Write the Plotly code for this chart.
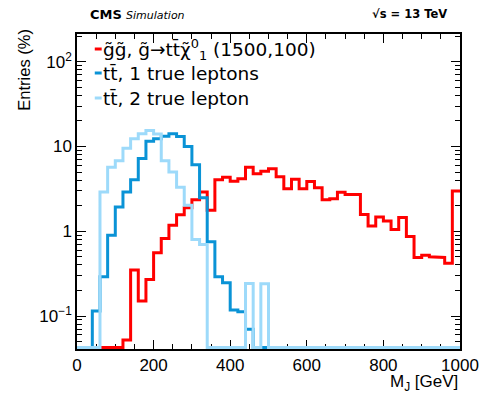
import plotly.graph_objects as go
import math

# ---- data ----
bin_edges = list(range(0, 1001, 20))  # M_J bin edges [GeV]

# Entries (%) per 20 GeV bin; 0 = empty bin, None = not drawn
signal_t1tttt = [None, None, None, 0, 0, 0, 0.052, 0.348, 0.15, 0.27,
                 0.556, 0.82, 1.18, 1.57, 1.9, 2.35, 2.9, 1.77, 4.06, 4.35,
                 3.9, 4.17, 5.7, 4.77, 5.1, 5.46, 4.4, 3.18, 4.12, 3.18,
                 3.87, 3.27, 2.36, 2.42, 2.88, 2.72, 2.72, 1.58, 1.15, 1.47,
                 1.32, 1.05, 1.45, 0.87, 0.49, 0.52, 0.50, 0.49, 0.42, 2.98]

ttbar_1lep = [0, 0, 0.115, 0.29, 0.9, 1.93, 2.9, 4.06, 7.2, 11.5,
              12.3, 13.2, 14.1, 13.1, 10.0, 6.1, 2.49, 0.75, 0.29, 0.247,
              0.118, 0.112, 0.07, 0, 0, 0, 0, 0, 0, 0,
              0, 0, 0, 0, 0, 0, 0, 0, 0, 0,
              0, 0, 0, 0, 0, 0, 0, 0, 0, 0]

ttbar_2lep = [0, 0, 0, 2.9, 5.7, 6.8, 9.55, 12.3, 14.1, 15.4,
              14.0, 6.8, 5.0, 3.3, 2.02, 0.8, 0.70, 0, 0, 0,
              0, 0, 0.242, 0, 0.24, 0, 0, 0, 0, 0,
              0, 0, 0, 0, 0, 0, 0, 0, 0, 0,
              0, 0, 0, 0, 0, 0, 0, 0, 0, 0]

legend_labels = [
    "g\u0303g\u0303, g\u0303\u2192tt\u0304\u03c7\u0303<sup>0</sup><sub>1</sub> (1500,100)",
    "tt\u0304, 1 true leptons",
    "tt\u0304, 2 true lepton",
]
colors = ["#FF0000", "#0A93D6", "#9DDAFA"]

y_tickvals = [0.1, 1, 10, 100]
y_ticktext = ["10<sup>\u22121</sup>", "1", "10", "10<sup>2</sup>"]

# ---- axis ranges (log10 for y) ----
YMIN, YMAX = -1.389, 2.327
floor_val = 10 ** (YMIN + 0.018)

y_minor = [k * 10 ** d for d in range(-2, 3) for k in range(2, 10)
           if YMIN < math.log10(k * 10 ** d) < YMAX]


def step_xy(vals):
    xs, ys = [], []
    for i, v in enumerate(vals):
        if v is None:
            xs += [None]
            ys += [None]
            continue
        vv = v if v > 0 else floor_val
        xs += [bin_edges[i], bin_edges[i + 1]]
        ys += [vv, vv]
    return xs, ys


fig = go.Figure()
for vals, col in zip([signal_t1tttt, ttbar_1lep, ttbar_2lep], colors):
    xs, ys = step_xy(vals)
    fig.add_trace(go.Scatter(x=xs, y=ys, mode="lines",
                             line=dict(color=col, width=3),
                             connectgaps=False, showlegend=False,
                             hoverinfo="skip"))

W, H = 491, 398
L, R, T, B = 77, 26, 34, 49
pw, ph = W - L - R, H - T - B


def px(x):
    return (x - L) / pw


def py(y):
    return (H - B - y) / ph


SANS = "Liberation Sans"
tickfont = dict(family=SANS, size=17, color="black")

fig.update_layout(
    width=W, height=H,
    margin=dict(l=L, r=R, t=T, b=B),
    paper_bgcolor="white", plot_bgcolor="white",
    showlegend=False,
    xaxis=dict(range=[0, 1000], tickvals=[0, 200, 400, 600, 800, 1000],
               ticks="inside", ticklen=9, tickwidth=1, tickcolor="black",
               minor=dict(dtick=50, ticks="inside", ticklen=5, tickwidth=1,
                          tickcolor="black", showgrid=False),
               showgrid=False, zeroline=False,
               showline=True, linecolor="black", linewidth=1.5, mirror="ticks",
               tickfont=tickfont, layer="below traces"),
    yaxis=dict(type="log", range=[YMIN, YMAX],
               tickvals=y_tickvals, ticktext=y_ticktext,
               ticks="inside", ticklen=9, tickwidth=1, tickcolor="black",
               minor=dict(tickvals=y_minor, ticks="inside", ticklen=5, tickwidth=1,
                          tickcolor="black", showgrid=False),
               showgrid=False, zeroline=False,
               showline=True, linecolor="black", linewidth=1.5, mirror="ticks",
               tickfont=tickfont, layer="below traces"),
)

annots = []
# header
annots.append(dict(text="<b>CMS</b> <i><span style='font-size:11px'>Simulation</span></i>",
                   x=px(88), y=py(14), xref="paper", yref="paper",
                   xanchor="left", yanchor="middle", showarrow=False,
                   font=dict(family="DejaVu Sans", size=13, color="black")))
annots.append(dict(text="<b>\u221As = 13 TeV</b>",
                   x=px(454), y=py(14), xref="paper", yref="paper",
                   xanchor="right", yanchor="middle", showarrow=False,
                   font=dict(family="DejaVu Sans", size=11.5, color="black")))
# axis titles
annots.append(dict(text="Entries (%)", textangle=-90,
                   x=px(23), y=py(70), xref="paper", yref="paper",
                   xanchor="center", yanchor="middle", showarrow=False,
                   font=dict(family=SANS, size=16.5, color="black")))
annots.append(dict(text="M<sub>J</sub> [GeV]",
                   x=1.0, y=py(383), xref="paper", yref="paper",
                   xanchor="right", yanchor="middle", showarrow=False,
                   font=dict(family=SANS, size=17, color="black")))

# legend
shapes = []
leg_y = [49, 73, 98]
for lab, col, yy in zip(legend_labels, colors, leg_y):
    shapes.append(dict(type="line", xref="paper", yref="paper",
                       x0=px(95), x1=px(102), y0=py(yy), y1=py(yy),
                       line=dict(color=col, width=3)))
    annots.append(dict(text=lab, x=px(101), y=py(yy), xref="paper", yref="paper",
                       xanchor="left", yanchor="middle", showarrow=False,
                       font=dict(family="DejaVu Sans", size=18.5, color="black")))

fig.update_layout(annotations=annots, shapes=shapes)
fig.write_html("out.html")
